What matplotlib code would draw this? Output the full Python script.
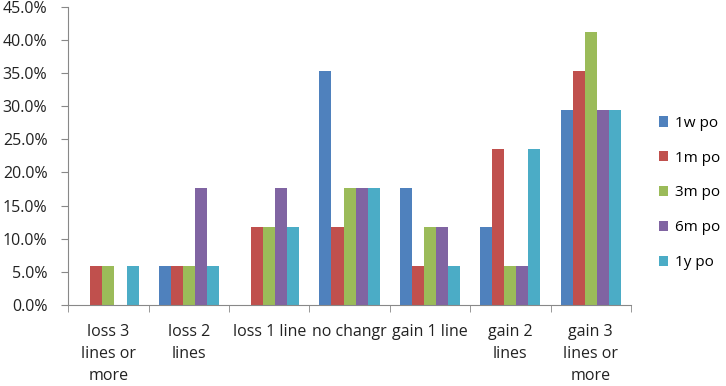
import matplotlib
matplotlib.use("Agg")
import matplotlib.pyplot as plt
import numpy as np
from matplotlib.ticker import FuncFormatter, MultipleLocator, FixedLocator

categories = ["loss 3\nlines or\nmore", "loss 2\nlines", "loss 1 line", "no changr",
              "gain 1 line", "gain 2\nlines", "gain 3\nlines or\nmore"]
series = ["1w po", "1m po", "3m po", "6m po", "1y po"]
w1 = [0.0, 5.9, 0.0, 35.3, 17.6, 11.8, 29.4]
m1 = [5.9, 5.9, 11.8, 11.8, 5.9, 23.5, 35.3]
m3 = [5.9, 5.9, 11.8, 17.6, 11.8, 5.9, 41.2]
m6 = [0.0, 17.6, 17.6, 17.6, 11.8, 5.9, 29.4]
y1 = [5.9, 5.9, 11.8, 17.6, 5.9, 23.5, 29.4]
values = [w1, m1, m3, m6, y1]
colors = ["#4F81BD", "#C0504D", "#9BBB59", "#8064A2", "#4BACC6"]

plt.rcParams['font.family'] = ['Open Sans', 'DejaVu Sans']
fig = plt.figure(figsize=(7.26, 3.86), dpi=100)
ax = fig.add_axes([0.094, 0.21, 0.775, 0.772])

x = np.arange(len(categories))
bw = 0.15
for i, (s, v, c) in enumerate(zip(series, values, colors)):
    ax.bar(x + (i - 2) * bw, v, width=bw, color=c, label=s)

ax.set_xlim(-0.5, len(categories) - 0.5)
ax.set_ylim(0, 45)
ax.yaxis.set_major_locator(MultipleLocator(5))
ax.yaxis.set_major_formatter(FuncFormatter(lambda v, p: f"{v:.1f}%"))
ax.set_xticks(x)
ax.set_xticklabels(categories, fontsize=11.5, color="#222222", linespacing=1.48)
ax.xaxis.set_minor_locator(FixedLocator(np.arange(-0.5, len(categories), 1.0)))
ax.tick_params(axis='x', which='major', length=0, pad=14)
ax.tick_params(axis='x', which='minor', length=5, color="#888888")
ax.tick_params(axis='y', length=5, color="#888888", labelsize=11.5, labelcolor="#222222", pad=10)
for sp in ["top", "right"]:
    ax.spines[sp].set_visible(False)
for sp in ["left", "bottom"]:
    ax.spines[sp].set_color("#888888")

leg = fig.legend(loc="center left", bbox_to_anchor=(0.905, 0.5), frameon=False,
                 fontsize=11, handlelength=0.65, handleheight=0.65,
                 labelspacing=1.3, handletextpad=0.4, borderpad=0.1, borderaxespad=0)

fig.savefig("out.png", dpi=100)
